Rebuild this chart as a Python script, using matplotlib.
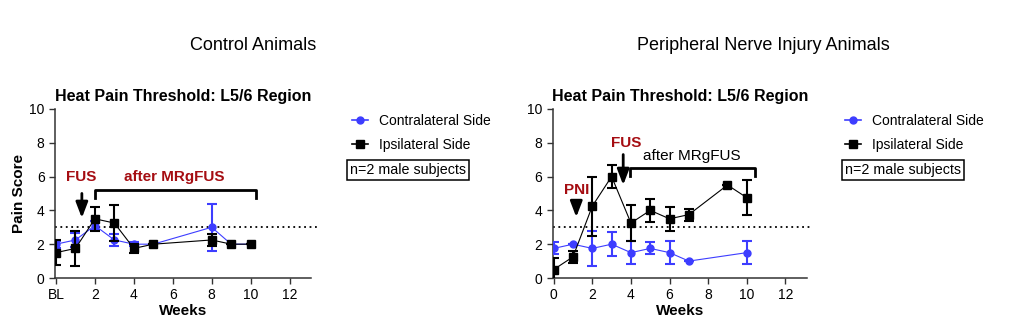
import numpy as np
import matplotlib.pyplot as plt
from matplotlib.lines import Line2D

plt.rcParams['font.family'] = ['Liberation Sans', 'DejaVu Sans']

# Control animals (x = weeks, 0 = BL)
ctrl_contra_x = [0, 1, 2, 3, 4, 5, 8, 9, 10]
ctrl_contra_y = [2.0, 2.25, 3.1, 2.25, 2.0, 2.0, 3.0, 2.0, 2.0]
ctrl_contra_err = [0.2, 0.4, 0.25, 0.35, 0.1, 0.0, 1.4, 0.0, 0.0]
ctrl_ipsi_x = [0, 1, 2, 3, 4, 5, 8, 9, 10]
ctrl_ipsi_y = [1.5, 1.75, 3.5, 3.25, 1.75, 2.0, 2.25, 2.0, 2.0]
ctrl_ipsi_err = [0.75, 1.05, 0.7, 1.05, 0.25, 0.0, 0.35, 0.0, 0.0]

# Peripheral nerve injury animals
pni_contra_x = [0, 1, 2, 3, 4, 5, 6, 7, 10]
pni_contra_y = [1.75, 2.0, 1.75, 2.0, 1.5, 1.75, 1.5, 1.0, 1.5]
pni_contra_err = [0.35, 0.0, 1.05, 0.7, 0.7, 0.35, 0.7, 0.0, 0.7]
pni_ipsi_x = [0, 1, 2, 3, 4, 5, 6, 7, 9, 10]
pni_ipsi_y = [0.5, 1.25, 4.25, 6.0, 3.25, 4.0, 3.5, 3.75, 5.5, 4.75]
pni_ipsi_err = [0.7, 0.35, 1.75, 0.7, 1.05, 0.7, 0.7, 0.35, 0.0, 1.05]

ctrl_xticklabels = ['BL', '2', '4', '6', '8', '10', '12']
pni_xticklabels = ['0', '2', '4', '6', '8', '10', '12']

blue = '#3d3dff'
red = '#a50d12'

fig = plt.figure(figsize=(10.11, 3.29), dpi=100)
ax1 = fig.add_axes([0.0544, 0.155, 0.2532, 0.514])
ax2 = fig.add_axes([0.5467, 0.155, 0.2512, 0.514])


def draw_panel(ax, cx, cy, ce, ix, iy, ie, xlabels):
    ax.errorbar(cx, cy, yerr=ce, color=blue, marker='o', ms=5, lw=0.8,
                elinewidth=1.5, capsize=3.5, capthick=1.5, zorder=3)
    ax.errorbar(ix, iy, yerr=ie, color='black', marker='s', ms=5.5, lw=0.8,
                elinewidth=1.5, capsize=3.5, capthick=1.5, zorder=4)
    ax.plot([-0.05, 13.4], [3, 3], ls=(0, (1, 2)), color='black', lw=1.3,
            clip_on=False, zorder=2)
    ax.set_xlim(-0.05, 13.1)
    ax.set_ylim(0, 10)
    ax.set_xticks(range(0, 13, 2))
    ax.set_xticklabels(xlabels)
    ax.set_yticks(range(0, 11, 2))
    ax.tick_params(labelsize=10, width=1, length=4, color='#333333')
    for s in ['top', 'right']:
        ax.spines[s].set_visible(False)
    for s in ['left', 'bottom']:
        ax.spines[s].set_linewidth(1.1)
        ax.spines[s].set_color('#333333')
    ax.set_xlabel('Weeks', fontsize=11, fontweight='bold', labelpad=1)
    ax.set_title('Heat Pain Threshold: L5/6 Region', fontsize=11.5,
                 fontweight='bold', pad=6)


def arrow(ax, x, y0, y1):
    ax.annotate('', xy=(x, y1), xytext=(x, y0),
                arrowprops=dict(arrowstyle='-|>,head_length=0.94,head_width=0.36',
                                color='black', lw=2, mutation_scale=10,
                                shrinkA=0, shrinkB=0))


draw_panel(ax1, ctrl_contra_x, ctrl_contra_y, ctrl_contra_err,
           ctrl_ipsi_x, ctrl_ipsi_y, ctrl_ipsi_err, ctrl_xticklabels)
draw_panel(ax2, pni_contra_x, pni_contra_y, pni_contra_err,
           pni_ipsi_x, pni_ipsi_y, pni_ipsi_err, pni_xticklabels)
ax1.set_ylabel('Pain Score', fontsize=11, fontweight='bold', labelpad=2)

# annotations - control
ax1.text(1.3, 5.95, 'FUS', color=red, fontsize=11, fontweight='bold', ha='center', va='center')
arrow(ax1, 1.33, 5.0, 3.55)
ax1.plot([2, 2, 10.25, 10.25], [4.75, 5.2, 5.2, 4.75], color='black', lw=2)
ax1.text(6.1, 5.95, 'after MRgFUS', color=red, fontsize=11, fontweight='bold', ha='center', va='center')

# annotations - PNI
ax2.text(1.2, 5.2, 'PNI', color=red, fontsize=11, fontweight='bold', ha='center', va='center')
arrow(ax2, 1.17, 4.57, 3.6)
ax2.text(3.77, 8.0, 'FUS', color=red, fontsize=11, fontweight='bold', ha='center', va='center')
arrow(ax2, 3.6, 7.3, 5.5)
ax2.plot([3.95, 3.95, 10.4, 10.4], [6.05, 6.5, 6.5, 6.05], color='black', lw=2)
ax2.text(7.17, 7.2, 'after MRgFUS', color='black', fontsize=11, ha='center', va='center')

# headers
fig.text(253 / 1011, 1 - 46 / 329, 'Control Animals', fontsize=13, ha='center', va='center')
fig.text(763 / 1011, 1 - 46 / 329, 'Peripheral Nerve Injury Animals', fontsize=13, ha='center', va='center')

# legends
handles = [
    Line2D([], [], color=blue, marker='o', ms=5, lw=1.2),
    Line2D([], [], color='black', marker='s', ms=5.5, lw=1.2),
]
labels = ['Contralateral Side', 'Ipsilateral Side']
for x0, xbox in [(352, 350), (845, 845)]:
    fig.legend(handles, labels, loc='upper left',
               bbox_to_anchor=(x0 / 1011, 1 - 114 / 329), frameon=False,
               fontsize=10, handlelength=1.15, handletextpad=0.8,
               labelspacing=0.7, borderpad=0, borderaxespad=0)
    fig.text(xbox / 1011, 1 - 170 / 329, 'n=2 male subjects', fontsize=10.3,
             ha='left', va='center',
             bbox=dict(boxstyle='square,pad=0.2', fc='white', ec='black', lw=1.1))

fig.savefig('out.png', dpi=100)
